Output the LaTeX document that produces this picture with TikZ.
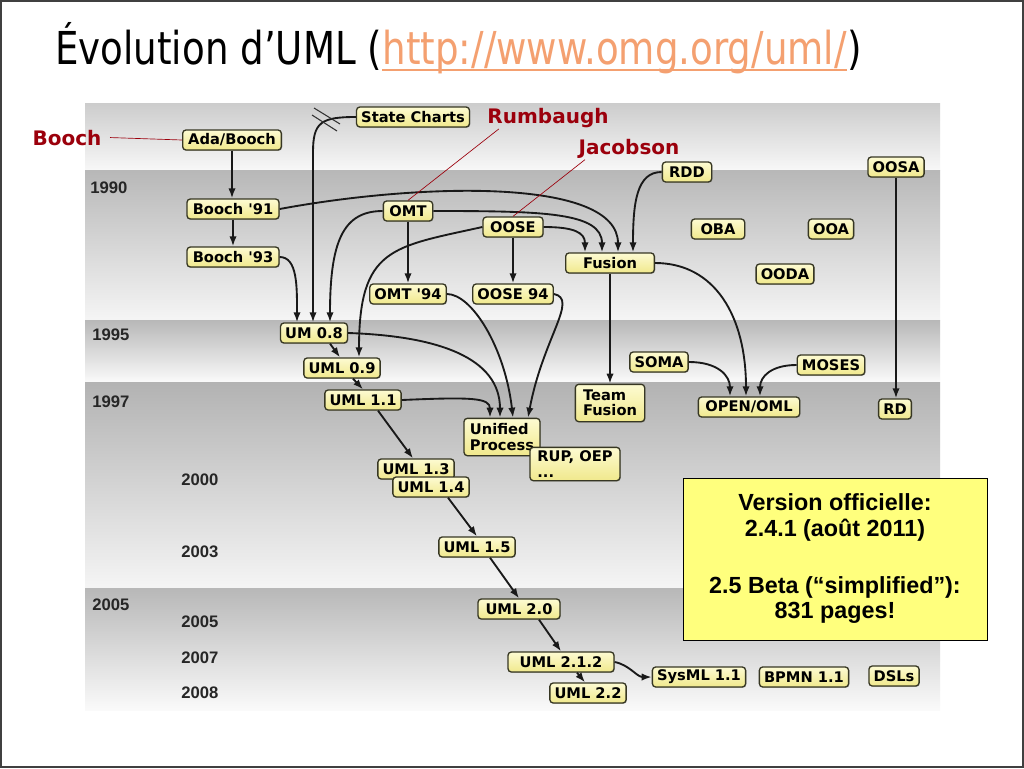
\documentclass[tikz,border=0pt]{standalone}
\usepackage{graphicx}
\usepackage{fontspec}
\setmainfont{Liberation Sans}
\newfontfamily\boxfont{DejaVu Sans}
\newfontfamily\titlefont{DejaVu Sans}
\usetikzlibrary{positioning,calc,arrows.meta,shadows}

\definecolor{urlorange}{RGB}{244,160,112}
\definecolor{namered}{RGB}{155,0,12}
\definecolor{boxedge}{RGB}{55,55,35}
\definecolor{boxtop}{RGB}{253,251,210}
\definecolor{boxbottom}{RGB}{240,232,140}
\definecolor{notefill}{RGB}{255,255,125}

\tikzset{%
	umlbox/.style   = {draw=boxedge, line width=1pt, rounded corners=2.5pt,
		top color=boxtop, bottom color=boxbottom, minimum height=15pt,
		inner xsep=3.5pt, inner ysep=1pt,
		font=\boxfont\bfseries\fontsize{11}{11.5}\selectfont,
		drop shadow={shadow xshift=0.6pt, shadow yshift=-0.6pt, opacity=0.5}},
	year/.style     = {anchor=base west, inner sep=0pt, text=black!85,
		font=\bfseries\fontsize{12.5}{13}\selectfont},
	person/.style   = {anchor=base, inner sep=1pt, text=namered,
		font=\boxfont\bfseries\fontsize{15}{16}\selectfont},
	titletext/.style = {anchor=base west, inner sep=0pt,
		font=\titlefont\fontsize{34}{36}\selectfont},
	flow/.style     = {-{Latex[length=7.5pt,width=5.5pt]}, line width=1.4pt, black!90},
	pointer/.style  = {draw=namered, line width=0.5pt}
}

\begin{document}
\begin{tikzpicture}[x=0.75pt, y=-0.75pt]
        \useasboundingbox (0,0) rectangle (1024,768);
        \draw[fill=white, draw=black!75, line width=1.5pt] (1,1) rectangle (1023,767);

        % title
        \node[titletext] (title) at (55,64) {\scalebox{0.82}[1]{Évolution d’UML (}};
        \node[titletext, text=urlorange] (url) at (title.base east) {\scalebox{0.82}[1]{http://www.omg.org/uml/}};
        \node[titletext] (titleend) at (url.base east) {\scalebox{0.82}[1]{)}};
        \draw[urlorange, line width=1.5pt] ($(url.base west)+(0,6)$) -- ($(url.base east)+(0,6)$);

        % time bands
        \shade[top color=black!20, bottom color=black!3] (85,103) rectangle (940,170);
        \shade[top color=black!28, bottom color=black!4] (85,170) rectangle (940,320);
        \shade[top color=black!28, bottom color=black!2] (85,320) rectangle (940,382);
        \shade[top color=black!30, bottom color=black!4] (85,382) rectangle (940,588);
        \shade[top color=black!28, bottom color=black!2] (85,588) rectangle (940,710);

        \node[year] (y1990) at (90,193) {1990};
        \node[year] (y1995) at (92,340) {1995};
        \node[year] (y1997) at (92,407) {1997};
        \node[year] (y2000) at (181,485) {2000};
        \node[year] (y2003) at (181,557) {2003};
        \node[year] (y2005a) at (92,610) {2005};
        \node[year] (y2005b) at (181,627) {2005};
        \node[year] (y2007) at (181,663) {2007};
        \node[year] (y2008) at (181,698) {2008};

        % methods
        \node[umlbox] (statecharts) at (413,117) {State Charts};
        \node[umlbox, minimum width=74pt] (adabooch) at (232,140) {Ada/Booch};
        \node[umlbox, minimum width=69pt] (booch91) at (233,209) {Booch '91};
        \node[umlbox, minimum width=69pt] (booch93) at (233,257) {Booch '93};
        \node[umlbox, minimum width=37pt] (omt) at (408,211) {OMT};
        \node[umlbox, minimum width=45pt] (oose) at (513,227) {OOSE};
        \node[umlbox, minimum width=37pt] (rdd) at (687,172) {RDD};
        \node[umlbox] (oosa) at (896,167) {OOSA};
        \node[umlbox, minimum width=40pt] (oba) at (718,229) {OBA};
        \node[umlbox] (ooa) at (831,229) {OOA};
        \node[umlbox] (ooda) at (785,274) {OODA};
        \node[umlbox, minimum width=66.5pt] (fusion) at (610,263) {Fusion};
        \node[umlbox] (omt94) at (408,294) {OMT '94};
        \node[umlbox] (oose94) at (513,294) {OOSE 94};
        \node[umlbox] (um08) at (314,333) {UM 0.8};
        \node[umlbox] (uml09) at (342,368) {UML 0.9};
        \node[umlbox] (uml11) at (363,400) {UML 1.1};
        \node[umlbox, align=left, minimum width=57pt, minimum height=28pt] (unified) at (502,437) {Unified\\Process};
        \node[umlbox, align=left, minimum width=67.5pt, minimum height=25pt] (rup) at (575,464) {RUP, OEP\\...};
        \node[umlbox, align=left, minimum width=52pt, minimum height=28pt] (teamfusion) at (610,403) {Team\\Fusion};
        \node[umlbox] (soma) at (659,362) {SOMA};
        \node[umlbox, minimum width=76pt] (openoml) at (749,407) {OPEN/OML};
        \node[umlbox] (moses) at (831,365) {MOSES};
        \node[umlbox] (rd) at (895,409) {RD};
        \node[umlbox] (uml13) at (416,469) {UML 1.3};
        \node[umlbox] (uml14) at (431,487) {UML 1.4};
        \node[umlbox] (uml15) at (477,547) {UML 1.5};
        \node[umlbox, minimum width=61.5pt] (uml20) at (519,609) {UML 2.0};
        \node[umlbox, minimum width=79.5pt] (uml212) at (561,662) {UML 2.1.2};
        \node[umlbox] (uml22) at (588,693) {UML 2.2};
        \node[umlbox] (sysml) at (699,677) {SysML 1.1};
        \node[umlbox] (bpmn) at (804,677) {BPMN 1.1};
        \node[umlbox] (dsls) at (894,676) {DSLs};

        % influences
        \draw[flow] (adabooch.south) -- (adabooch.south |- booch91.north);
        \draw[flow] (booch91.south) -- (booch91.south |- booch93.north);
        \draw[flow] (booch93.east) .. controls +(18,0) and +(0,-35) .. ($(um08.north)+(-17,0)$);
        \draw[flow] (statecharts.west) .. controls +(-35,0) and +(0,-30) .. ($(um08.north)+(-1,-170)$) -- ($(um08.north)+(-1,0)$);
        \draw[flow] (omt.west) .. controls +(-40,0) and +(0,-80) .. ($(um08.north)+(16,0)$);
        \draw[flow] (booch91.east) .. controls +(140,-26) and +(0,-75) .. ($(fusion.north)+(8,0)$);
        \draw[flow] (omt.east) .. controls +(110,0) and +(0,-40) .. ($(fusion.north)+(-8,0)$);
        \draw[flow] (oose.east) .. controls +(30,0) and +(0,-20) .. ($(fusion.north)+(-25,0)$);
        \draw[flow] (rdd.west) .. controls +(-25,0) and +(0,-50) .. ($(fusion.north)+(23,0)$);
        \draw[flow] (omt.south) -- (omt.south |- omt94.north);
        \draw[flow] (oose.south) -- (oose.south |- oose94.north);
        \draw[flow] (oose.west) .. controls +(-90,20) and +(0,-110) .. ($(uml09.north)+(17,0)$);
        \draw[flow] ($(um08.south)+(16,0)$) -- ($(uml09.north)+(-2,0)$);
        \draw[flow] ($(uml09.south)+(11,0)$) -- (uml11.north);
        \draw[flow] (um08.east) .. controls +(90,3) and +(0,-60) .. ($(unified.north)+(-2,0)$);
        \draw[flow] (uml11.east) .. controls +(70,-3) and +(0,-20) .. ($(unified.north)+(-12,0)$);
        \draw[flow] (omt94.east) .. controls +(25,0) and +(-8,-70) .. ($(unified.north)+(11,0)$);
        \draw[flow] (oose94.east) .. controls +(25,5) and +(15,-80) .. ($(unified.north)+(26,0)$);
        \draw[flow] ($(uml11.south)+(15,0)$) -- ($(uml13.north)+(-3,0)$);
        \draw[flow] ($(uml14.south)+(17,0)$) -- (uml15.north);
        \draw[flow] ($(uml15.south)+(13,0)$) -- (uml20.north);
        \draw[flow] ($(uml20.south)+(20,0)$) -- (uml212.north);
        \draw[flow] ($(uml212.south)+(16,0)$) -- ($(uml22.north)+(-3,0)$);
        \draw[flow] (uml212.east) .. controls +(15,3) and +(-15,0) .. (sysml.west);
        \draw[flow] (fusion.south) -- (fusion.south |- teamfusion.north);
        \draw[flow] (fusion.east) .. controls +(60,0) and +(0,-80) .. ($(openoml.north)+(-3,0)$);
        \draw[flow] (soma.east) .. controls +(30,0) and +(0,-20) .. ($(openoml.north)+(-19,0)$);
        \draw[flow] (moses.west) .. controls +(-25,0) and +(0,-20) .. ($(openoml.north)+(11,0)$);
        \draw[flow] (oosa.south) -- (oosa.south |- rd.north);

        % break mark on the State Charts line
        \draw[line width=0.8pt, black!80] (314,108) -- (340,124);
        \draw[line width=0.8pt, black!80] (312,115) -- (337,131);

        % authors
        \node[person] (booch) at (67,145) {Booch};
        \node[person] (rumbaugh) at (548,123) {Rumbaugh};
        \node[person] (jacobson) at (629,154) {Jacobson};
        \draw[pointer] ($(booch.east)+(7,0)$) -- (adabooch.west);
        \draw[pointer] ($(rumbaugh.south west)+(13,0)$) -- (omt.north);
        \draw[pointer] ($(jacobson.south west)+(8,0)$) -- (oose.north);

        % note
        \node[draw=black, line width=0.75pt, fill=notefill, minimum width=228pt,
              minimum height=121.5pt, align=center,
              font=\bfseries\fontsize{17.5}{19}\selectfont] (version) at (835,559)
              {Version officielle:\\ 2.4.1 (août 2011)\\[24pt] 2.5 Beta (“simplified”):\\ 831 pages!};
\end{tikzpicture}
\end{document}
